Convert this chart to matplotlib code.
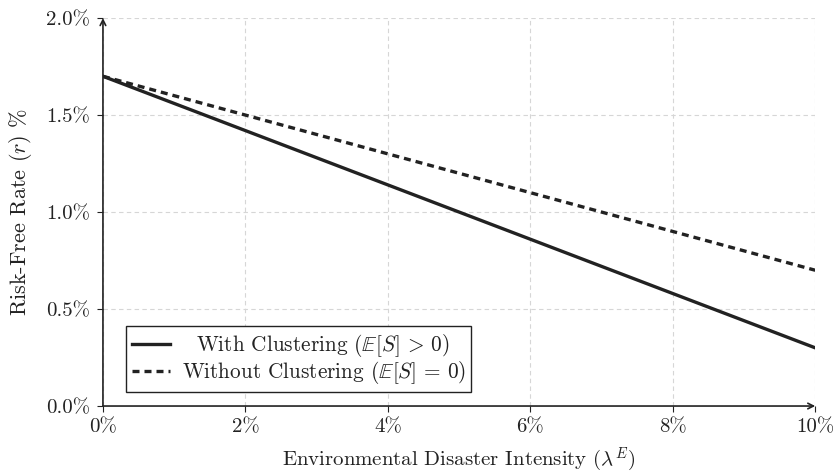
import numpy as np
import matplotlib
matplotlib.use("Agg")
import matplotlib.pyplot as plt

plt.rcParams['font.family'] = 'cmr10'
plt.rcParams['mathtext.fontset'] = 'cm'
plt.rcParams['axes.unicode_minus'] = False

# data (percent)
intensity = [0, 2, 4, 6, 8, 10]
with_clustering = [1.70, 1.42, 1.14, 0.86, 0.58, 0.30]
without_clustering = [1.70, 1.50, 1.30, 1.10, 0.90, 0.70]

x_ticks = [0, 2, 4, 6, 8, 10]
x_labels = ['0%', '2%', '4%', '6%', '8%', '10%']
y_ticks = [0.0, 0.5, 1.0, 1.5, 2.0]
y_labels = ['0.0%', '0.5%', '1.0%', '1.5%', '2.0%']

fig = plt.figure(figsize=(8.37, 4.76), dpi=100)
ax = fig.add_axes([0.123, 0.147, 0.851, 0.815])

ink = '#222222'
ax.plot(intensity, with_clustering, color=ink, lw=2.4,
        label=r'  With Clustering ($\mathbb{E}[S]\,>\,0$)')
ax.plot(intensity, without_clustering, color=ink, lw=2.4, dashes=(2.1, 1.5),
        label=r'Without Clustering ($\mathbb{E}[S]\,=\,0$)')

ax.set_xlim(0, 10)
ax.set_ylim(0, 2.0)
ax.set_xticks(x_ticks)
ax.set_xticklabels(x_labels)
ax.set_yticks(y_ticks)
ax.set_yticklabels(y_labels)
ax.tick_params(labelsize=15, length=4, width=0.8, color=ink, pad=5)
for t in ax.get_xticklabels() + ax.get_yticklabels():
    t.set_color(ink)

ax.grid(True, color='#d6d6d6', lw=0.8, dashes=(4, 3))
ax.set_axisbelow(True)

for s in ax.spines.values():
    s.set_visible(False)

# axis lines with arrow heads
ax.annotate('', xy=(1.0, 0), xytext=(0, 0), xycoords='axes fraction',
            arrowprops=dict(arrowstyle='->', color=ink, lw=1.2, shrinkA=0, shrinkB=0))
ax.annotate('', xy=(0, 1.0), xytext=(0, 0), xycoords='axes fraction',
            arrowprops=dict(arrowstyle='->', color=ink, lw=1.2, shrinkA=0, shrinkB=0))

ax.set_xlabel(r'Environmental Disaster Intensity ($\lambda^E$)', fontsize=15, color=ink, labelpad=7)
ax.set_ylabel(r'Risk-Free Rate ($r$) %', fontsize=16, color=ink, labelpad=9)

leg = ax.legend(loc='lower left', bbox_to_anchor=(0.032, 0.036), borderaxespad=0,
                fontsize=15.3, frameon=True, fancybox=False, edgecolor=ink, framealpha=1,
                handlelength=1.8, borderpad=0.28, labelspacing=0.0, handletextpad=0.55)
leg.get_frame().set_linewidth(1.0)
for t in leg.get_texts():
    t.set_color(ink)

fig.savefig('out.png', dpi=100)
